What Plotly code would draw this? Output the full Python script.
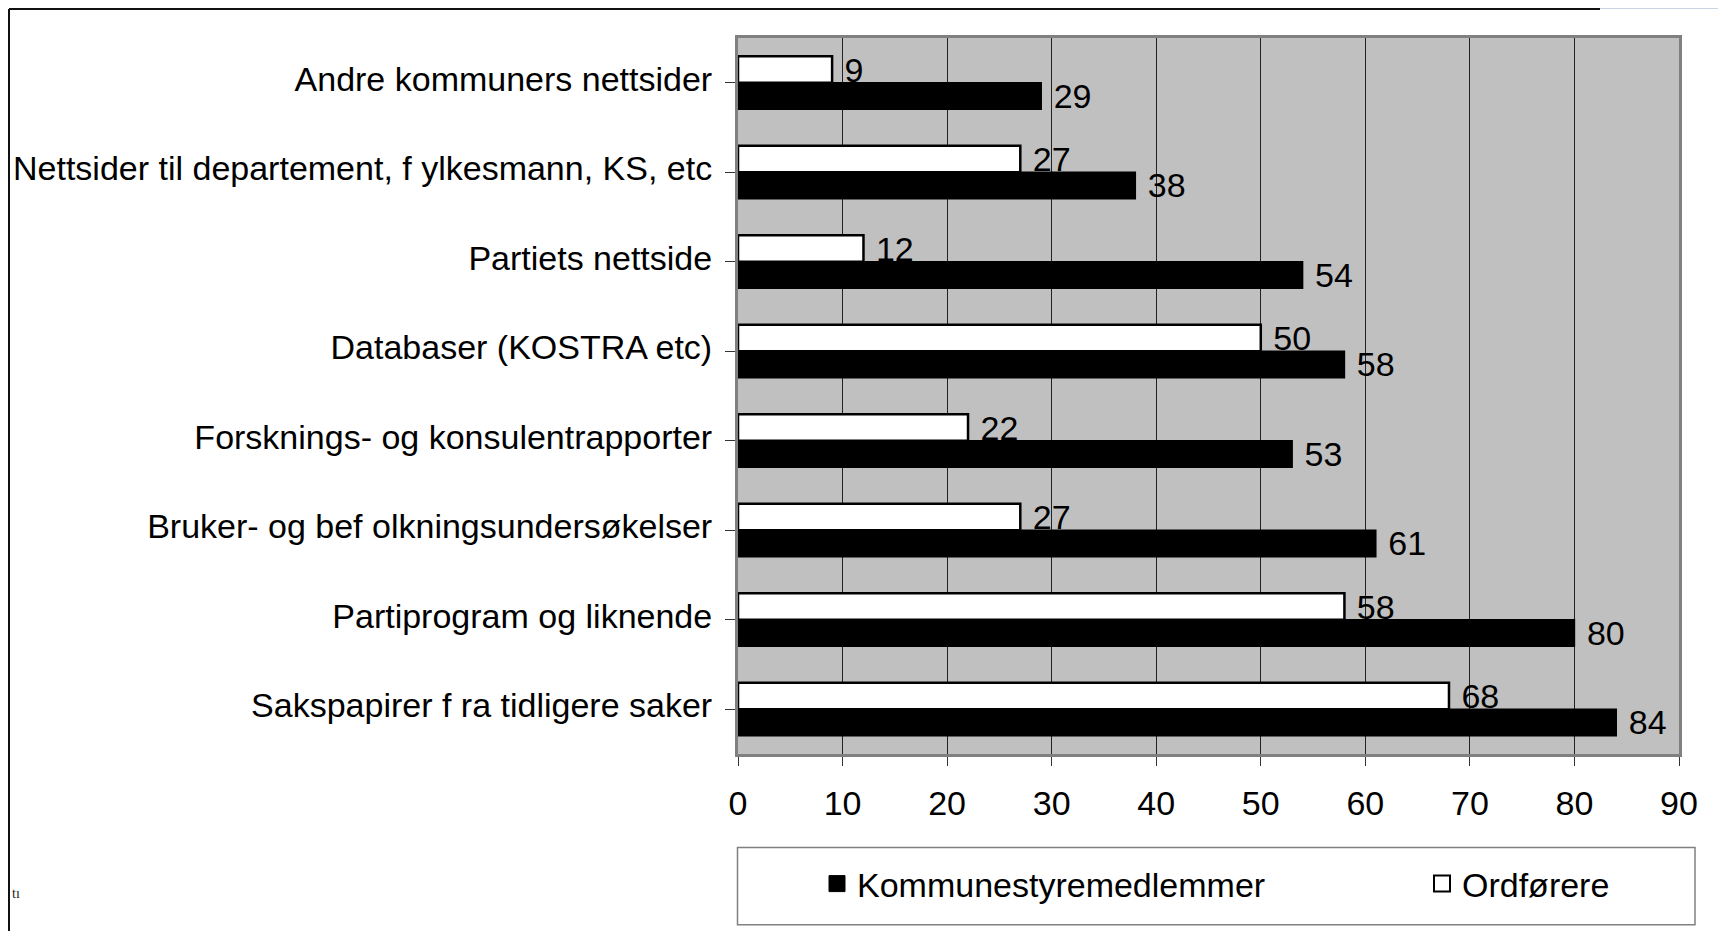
import plotly.graph_objects as go

categories = [
    "Andre kommuners nettsider",
    "Nettsider til departement, f ylkesmann, KS, etc",
    "Partiets nettside",
    "Databaser (KOSTRA etc)",
    "Forsknings- og konsulentrapporter",
    "Bruker- og bef olkningsundersøkelser",
    "Partiprogram og liknende",
    "Sakspapirer f ra tidligere saker",
]
ordforere = [9, 27, 12, 50, 22, 27, 58, 68]
kommunestyre = [29, 38, 54, 58, 53, 61, 80, 84]
x_ticks = [0, 10, 20, 30, 40, 50, 60, 70, 80, 90]

W, H = 1726, 931
OFF = 8  # page body margin
L, T, PW, PH = 730, 30, 941, 716
R, B = W - L - PW, H - T - PH


def px(page_x):
    return (page_x - OFF - L) / PW


def py(page_y):
    return (T + PH - (page_y - OFF)) / PH


FONT = "Liberation Sans, Arial, sans-serif"
FS = 34

fig = go.Figure()
fig.add_trace(go.Bar(
    name="Kommunestyremedlemmer", y=categories, x=kommunestyre, orientation="h",
    marker=dict(color="black", line=dict(color="black", width=1.5)),
    texttemplate="\u00a0%{x}", textposition="outside", constraintext="none",
    textfont=dict(size=FS, color="black", family=FONT), cliponaxis=False,
    showlegend=False,
))
fig.add_trace(go.Bar(
    name="Ordførere", y=categories, x=ordforere, orientation="h",
    marker=dict(color="white", line=dict(color="black", width=2.5)),
    texttemplate="\u00a0%{x}", textposition="outside", constraintext="none",
    textfont=dict(size=FS, color="black", family=FONT), cliponaxis=False,
    showlegend=False,
))
# legend entries
fig.add_trace(go.Scatter(
    name="Kommunestyremedlemmer", x=[None], y=[None], mode="markers", legend="legend",
    marker=dict(symbol="square", size=22, color="black", line=dict(color="black", width=1)),
))
fig.add_trace(go.Scatter(
    name="Ordførere", x=[None], y=[None], mode="markers", legend="legend2",
    marker=dict(symbol="square", size=22, color="white", line=dict(color="black", width=2)),
))

shapes = [
    # legend box
    dict(type="rect", xref="paper", yref="paper", x0=px(737.5), x1=px(1695),
         y0=py(847.6), y1=py(924.7), line=dict(color="#808080", width=1.5)),
    # outer frame lines
    dict(type="line", xref="paper", yref="paper", x0=px(9), x1=px(1600),
         y0=py(9), y1=py(9), line=dict(color="#111", width=2)),
    dict(type="line", xref="paper", yref="paper", x0=px(1600), x1=px(1740),
         y0=py(8.5), y1=py(8.5), line=dict(color="#c8d6e4", width=1)),
    dict(type="line", xref="paper", yref="paper", x0=px(9), x1=px(9),
         y0=py(9), y1=py(945), line=dict(color="#111", width=2)),
]

leg_common = dict(orientation="h", yanchor="middle", xanchor="left",
                  bgcolor="rgba(0,0,0,0)", font=dict(size=FS, family=FONT))

fig.update_layout(
    width=W, height=H,
    margin=dict(l=L, r=R, t=T, b=B, pad=0, autoexpand=False),
    paper_bgcolor="white", plot_bgcolor="#C0C0C0",
    barmode="group", bargap=0.41, bargroupgap=0,
    font=dict(family=FONT, size=FS, color="black"),
    shapes=shapes,
    legend=dict(x=px(837 - 20), y=py(884), **leg_common),
    legend2=dict(x=px(1442 - 20), y=py(884), **leg_common),
    annotations=[dict(text="tı", xref="paper", yref="paper", x=px(10), y=py(893),
                      xanchor="left", yanchor="middle", showarrow=False,
                      font=dict(family="Liberation Serif, serif", size=14, color="#222"))],
    xaxis=dict(range=[0, 90], tickvals=x_ticks, showgrid=True, gridcolor="#222", gridwidth=1,
               showline=True, linecolor="#808080", linewidth=3, mirror=True,
               ticks="outside", ticklen=9, tickcolor="#333", tickwidth=1,
               ticklabelstandoff=8, zeroline=False, fixedrange=True, automargin=False),
    yaxis=dict(categoryorder="array", categoryarray=categories[::-1],
               showline=True, linecolor="#808080", linewidth=3, mirror=True,
               ticks="outside", ticklen=10, tickcolor="#333", tickwidth=1,
               ticklabelstandoff=6, ticklabelshift=-4, showgrid=False, zeroline=False,
               fixedrange=True, automargin=False),
)

fig.write_html("out.html")
